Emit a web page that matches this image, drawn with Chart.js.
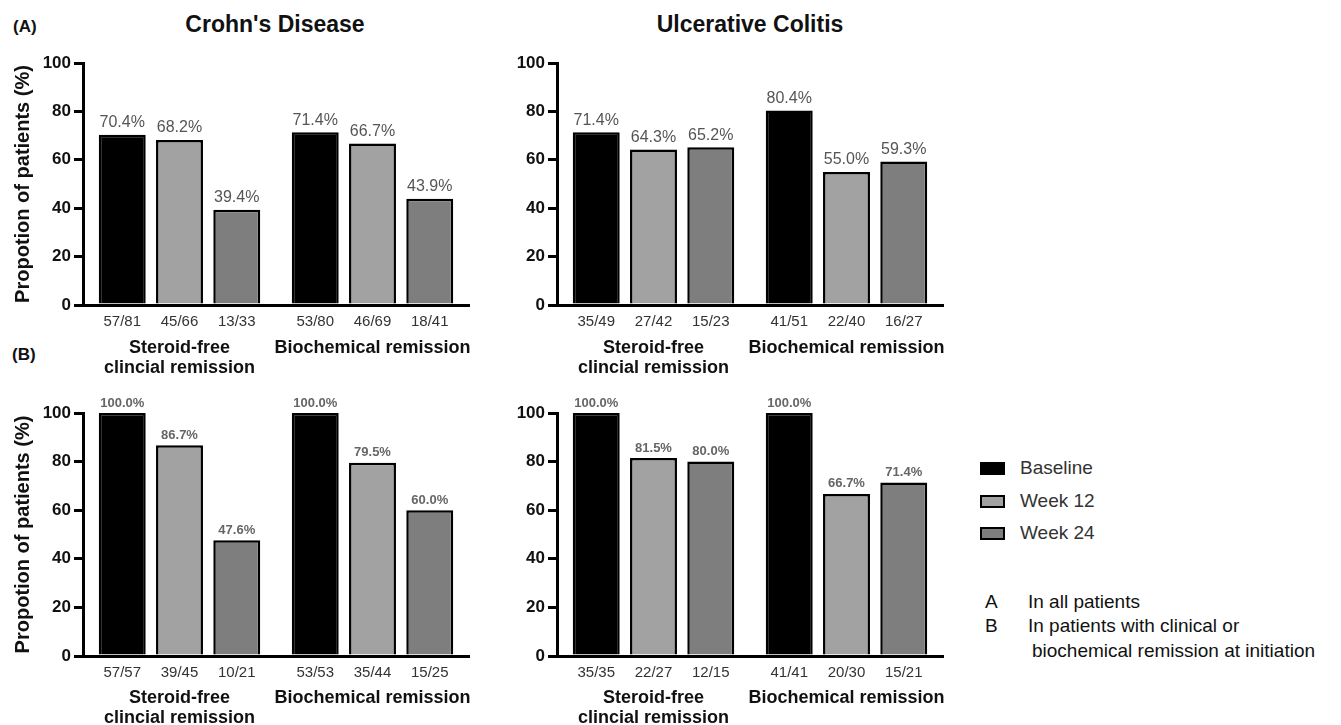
<!DOCTYPE html>
<html><head><meta charset="utf-8">
<script src="https://cdn.jsdelivr.net/npm/chart.js@4.4.1/dist/chart.umd.min.js"></script>
<style>
body{margin:0;background:#fff;width:1341px;height:725px;overflow:hidden;position:relative;font-family:"Liberation Sans",Arial,sans-serif;}
.t{position:absolute;white-space:nowrap;}
canvas{position:absolute;}
.box{position:absolute;width:21px;height:9px;border:2px solid #000;}
</style></head><body>
<div class="t" style="left:13px;top:17px;font-weight:bold;font-size:17px;color:#111;">(A)</div>
<div class="t" style="left:12px;top:345px;font-weight:bold;font-size:17px;color:#111;">(B)</div>
<div class="t" style="left:275px;top:11px;transform:translateX(-50%);font-weight:bold;font-size:23px;color:#111;">Crohn's Disease</div>
<div class="t" style="left:750px;top:11px;transform:translateX(-50%);font-weight:bold;font-size:23px;color:#111;">Ulcerative Colitis</div>

<canvas id="cdA" width="490" height="335" style="left:0px;top:40px;width:490px;height:335px;"></canvas>
<canvas id="ucA" width="480" height="335" style="left:480px;top:40px;width:480px;height:335px;"></canvas>
<canvas id="cdB" width="490" height="340" style="left:0px;top:385px;width:490px;height:340px;"></canvas>
<canvas id="ucB" width="480" height="340" style="left:480px;top:385px;width:480px;height:340px;"></canvas>

<div id="legend"></div>
<div class="t" style="left:985px;top:591px;font-size:19px;color:#111;">A</div>
<div class="t" style="left:1028px;top:591px;font-size:19px;color:#111;">In all patients</div>
<div class="t" style="left:985px;top:615px;font-size:19px;color:#111;">B</div>
<div class="t" style="left:1028px;top:615px;font-size:19px;color:#111;">In patients with clinical or</div>
<div class="t" style="left:1032px;top:640px;font-size:19px;color:#111;">biochemical remission at initiation</div>

<script>
// ---- data ----
const seriesNames = ['Baseline', 'Week 12', 'Week 24'];
const seriesColors = ['#000000', '#a2a2a2', '#7e7e7e'];
const groupLabels = [['Steroid-free', 'clincial remission'], 'Biochemical remission'];
const yTicks = [0, 20, 40, 60, 80, 100];

// (A) Crohn's Disease - all patients
const cdA_baseline = [70.4, 71.4];
const cdA_week12   = [68.2, 66.7];
const cdA_week24   = [39.4, 43.9];
const cdA_n_baseline = ['57/81', '53/80'];
const cdA_n_week12   = ['45/66', '46/69'];
const cdA_n_week24   = ['13/33', '18/41'];

// (A) Ulcerative Colitis - all patients
const ucA_baseline = [71.4, 80.4];
const ucA_week12   = [64.3, 55.0];
const ucA_week24   = [65.2, 59.3];
const ucA_n_baseline = ['35/49', '41/51'];
const ucA_n_week12   = ['27/42', '22/40'];
const ucA_n_week24   = ['15/23', '16/27'];

// (B) Crohn's Disease - remission at initiation
const cdB_baseline = [100.0, 100.0];
const cdB_week12   = [86.7, 79.5];
const cdB_week24   = [47.6, 60.0];
const cdB_n_baseline = ['57/57', '53/53'];
const cdB_n_week12   = ['39/45', '35/44'];
const cdB_n_week24   = ['10/21', '15/25'];

// (B) Ulcerative Colitis - remission at initiation
const ucB_baseline = [100.0, 100.0];
const ucB_week12   = [81.5, 66.7];
const ucB_week24   = [80.0, 71.4];
const ucB_n_baseline = ['35/35', '41/41'];
const ucB_n_week12   = ['22/27', '20/30'];
const ucB_n_week24   = ['12/15', '15/21'];

const FONT = '"Liberation Sans", Arial, sans-serif';

// legend (HTML)
const legendTops = [462, 495, 527];
const lg = document.getElementById('legend');
seriesNames.forEach((n, i) => {
  const b = document.createElement('div');
  b.className = 'box';
  b.style.left = '980px'; b.style.top = legendTops[i] + 'px';
  b.style.background = seriesColors[i];
  lg.appendChild(b);
  const t = document.createElement('div');
  t.className = 't';
  t.style.left = '1020px'; t.style.top = (legendTops[i] - 5) + 'px';
  t.style.fontSize = '19px'; t.style.color = '#333';
  t.textContent = n;
  lg.appendChild(t);
});

const barLabels = {
  id: 'barLabels',
  afterDatasetsDraw(chart, args, opts) {
    const ctx = chart.ctx, area = chart.chartArea;
    chart.data.datasets.forEach((ds, i) => {
      const meta = chart.getDatasetMeta(i);
      meta.data.forEach((el, j) => {
        ctx.save();
        ctx.textAlign = 'center'; ctx.textBaseline = 'middle';
        ctx.font = opts.valueFont; ctx.fillStyle = opts.valueColor;
        ctx.fillText(ds.data[j].toFixed(1) + '%', el.x, el.y - opts.valueOffset);
        ctx.font = opts.fracFont; ctx.fillStyle = '#333';
        ctx.fillText(ds.fractions[j], el.x, area.bottom + opts.fracOffset);
        ctx.restore();
      });
    });
  }
};

function makeChart(id, vals, fracs, cfg) {
  const datasets = seriesNames.map((name, i) => ({
    label: name,
    data: vals[i],
    fractions: fracs[i],
    backgroundColor: seriesColors[i],
    borderColor: '#000',
    borderWidth: 2.5,
    borderSkipped: 'start'
  }));
  new Chart(document.getElementById(id), {
    type: 'bar',
    data: { labels: groupLabels, datasets },
    options: {
      responsive: false,
      animation: false,
      layout: { padding: { top: cfg.top, right: cfg.right, left: 0, bottom: 0 } },
      datasets: { bar: { barPercentage: 0.82, categoryPercentage: 0.89 } },
      plugins: {
        legend: { display: false },
        tooltip: { enabled: false },
        barLabels: cfg.labels
      },
      scales: {
        x: {
          ticks: { font: { family: FONT, size: 18, weight: 'bold', lineHeight: 1.1 }, color: '#111', padding: cfg.xpad, maxRotation: 0, autoSkip: false },
          grid: { display: false, drawTicks: false },
          border: { display: true, color: '#000', width: 3 },
          afterFit(s) { s.height = cfg.xh; s.paddingLeft = 0; s.paddingRight = 0; }
        },
        y: {
          min: 0, max: 100,
          afterBuildTicks(s) { s.ticks = yTicks.map(v => ({ value: v })); },
          ticks: { font: { family: FONT, size: 17, weight: 'bold' }, color: '#111', padding: 3 },
          grid: { drawOnChartArea: false, drawTicks: true, tickLength: 9, color: '#000', lineWidth: 3 },
          border: { display: true, color: '#000', width: 3 },
          title: { display: cfg.yTitle, text: 'Propotion of patients (%)', font: { family: FONT, size: 20, weight: 'bold' }, color: '#111', padding: { top: 11, bottom: 0 } },
          afterFit(s) { s.width = cfg.yw; }
        }
      }
    },
    plugins: [barLabels]
  });
}

const labelsA = { valueFont: '16px ' + FONT, valueColor: '#555', valueOffset: 12, fracFont: '15px ' + FONT, fracOffset: 17 };
const labelsB = { valueFont: 'bold 13px ' + FONT, valueColor: '#666', valueOffset: 10, fracFont: '15px ' + FONT, fracOffset: 17 };

makeChart('cdA', [cdA_baseline, cdA_week12, cdA_week24], [cdA_n_baseline, cdA_n_week12, cdA_n_week24],
  { top: 23, right: 21, xh: 70, yw: 83, yTitle: true, xpad: 33, labels: labelsA });
makeChart('ucA', [ucA_baseline, ucA_week12, ucA_week24], [ucA_n_baseline, ucA_n_week12, ucA_n_week24],
  { top: 23, right: 17, xh: 70, yw: 77, yTitle: false, xpad: 33, labels: labelsA });
makeChart('cdB', [cdB_baseline, cdB_week12, cdB_week24], [cdB_n_baseline, cdB_n_week12, cdB_n_week24],
  { top: 28, right: 21, xh: 69, yw: 83, yTitle: true, xpad: 32, labels: labelsB });
makeChart('ucB', [ucB_baseline, ucB_week12, ucB_week24], [ucB_n_baseline, ucB_n_week12, ucB_n_week24],
  { top: 28, right: 17, xh: 69, yw: 77, yTitle: false, xpad: 32, labels: labelsB });
</script>
</body></html>
